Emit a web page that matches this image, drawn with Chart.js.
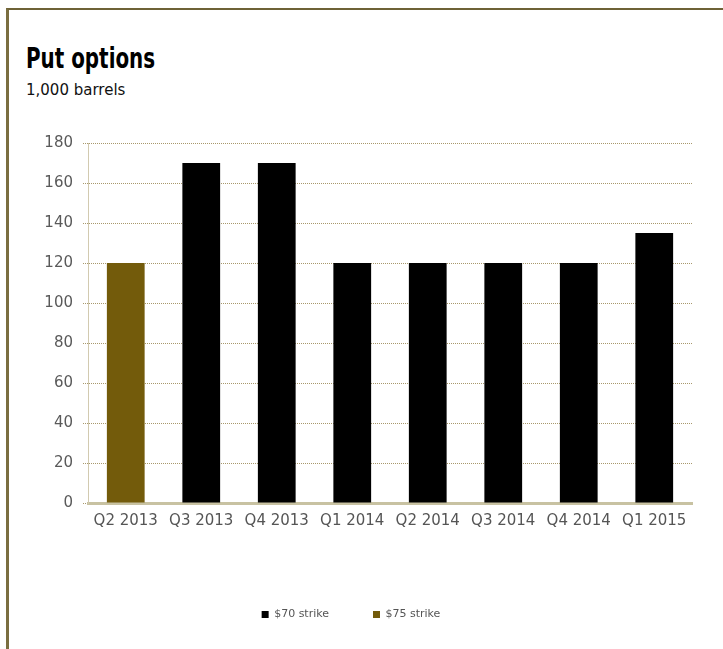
<!DOCTYPE html>
<html>
<head>
<meta charset="utf-8">
<script src="https://cdn.jsdelivr.net/npm/chart.js@4.4.0/dist/chart.umd.min.js"></script>
<style>
  html, body { margin: 0; padding: 0; background: #fff; }
  #wrap { position: relative; width: 723px; height: 649px; overflow: hidden; }
  #frame { position: absolute; left: 6px; top: 8px; width: 730px; height: 660px;
           border-top: 2px solid #6e6236; border-left: 3px solid #7a6e40; }
  #title { position: absolute; left: 26px; top: 43px; font-family: "Liberation Sans Narrow", "DejaVu Sans Condensed", sans-serif;
           font-weight: bold; font-size: 28px; color: #000; line-height: 32px;
           transform: scaleX(0.79); transform-origin: 0 0; white-space: nowrap; }
  #sub { position: absolute; left: 26px; top: 80px; font-family: "DejaVu Sans", sans-serif;
         font-size: 15px; color: #111; line-height: 20px; }
  #c { position: absolute; left: 0; top: 0; }
</style>
</head>
<body>
<div id="wrap">
  <div id="frame"></div>
  <div id="title">Put options</div>
  <div id="sub">1,000 barrels</div>
  <canvas id="c" width="723" height="649"></canvas>
</div>
<script>
const categories = ["Q2 2013", "Q3 2013", "Q4 2013", "Q1 2014", "Q2 2014", "Q3 2014", "Q4 2014", "Q1 2015"];
const strike70 = [null, 170, 170, 120, 120, 120, 120, 135];
const strike75 = [120, null, null, null, null, null, null, null];
const yTicks = [0, 20, 40, 60, 80, 100, 120, 140, 160, 180];

const legendHeight = 84;
const legendFitPlugin = {
  id: 'legendFit',
  afterInit(chart) {
    const lg = chart.legend;
    if (lg && !lg._patched) {
      const orig = lg.fit;
      lg.fit = function () { orig.call(this); this.height = legendHeight; };
      lg._patched = true;
    }
  }
};

new Chart(document.getElementById('c'), {
  type: 'bar',
  data: {
    labels: categories,
    datasets: [
      { label: '$70 strike', data: strike70, backgroundColor: '#000000', borderWidth: 0 },
      { label: '$75 strike', data: strike75, backgroundColor: '#735b0b', borderWidth: 0 }
    ]
  },
  options: {
    responsive: false,
    animation: false,
    devicePixelRatio: 1,
    layout: { padding: { left: 10, right: 31, top: 143, bottom: 0 } },
    datasets: { bar: { categoryPercentage: 1.0, barPercentage: 0.5 } },
    plugins: {
      title: { display: false },
      tooltip: { enabled: false },
      legend: {
        position: 'bottom',
        labels: {
          boxWidth: 7, boxHeight: 7, padding: 44,
          font: { family: 'DejaVu Sans', size: 11 },
          color: '#555'
        }
      }
    },
    scales: {
      x: {
        stacked: true,
        grid: { display: false, drawTicks: false },
        border: { display: true, color: '#c8c2a2', width: 3 },
        ticks: { padding: 9, font: { family: 'DejaVu Sans', size: 15 }, color: '#555', maxRotation: 0, autoSkip: false },
        afterFit: (s) => { s.height = 62; }
      },
      y: {
        stacked: true,
        min: 0, max: 180,
        afterBuildTicks: (s) => { s.ticks = yTicks.map(v => ({ value: v })); },
        grid: { color: '#a8986c', lineWidth: 1, tickLength: 5, tickBorderDash: [1, 1], drawTicks: true },
        border: { display: true, color: '#d2cab0', width: 1, dash: [1, 1] },
        ticks: { padding: 10, font: { family: 'DejaVu Sans', size: 15 }, color: '#5a5a5a' },
        afterFit: (s) => { s.width = 78; }
      }
    }
  },
  plugins: [legendFitPlugin]
});
</script>
</body>
</html>
